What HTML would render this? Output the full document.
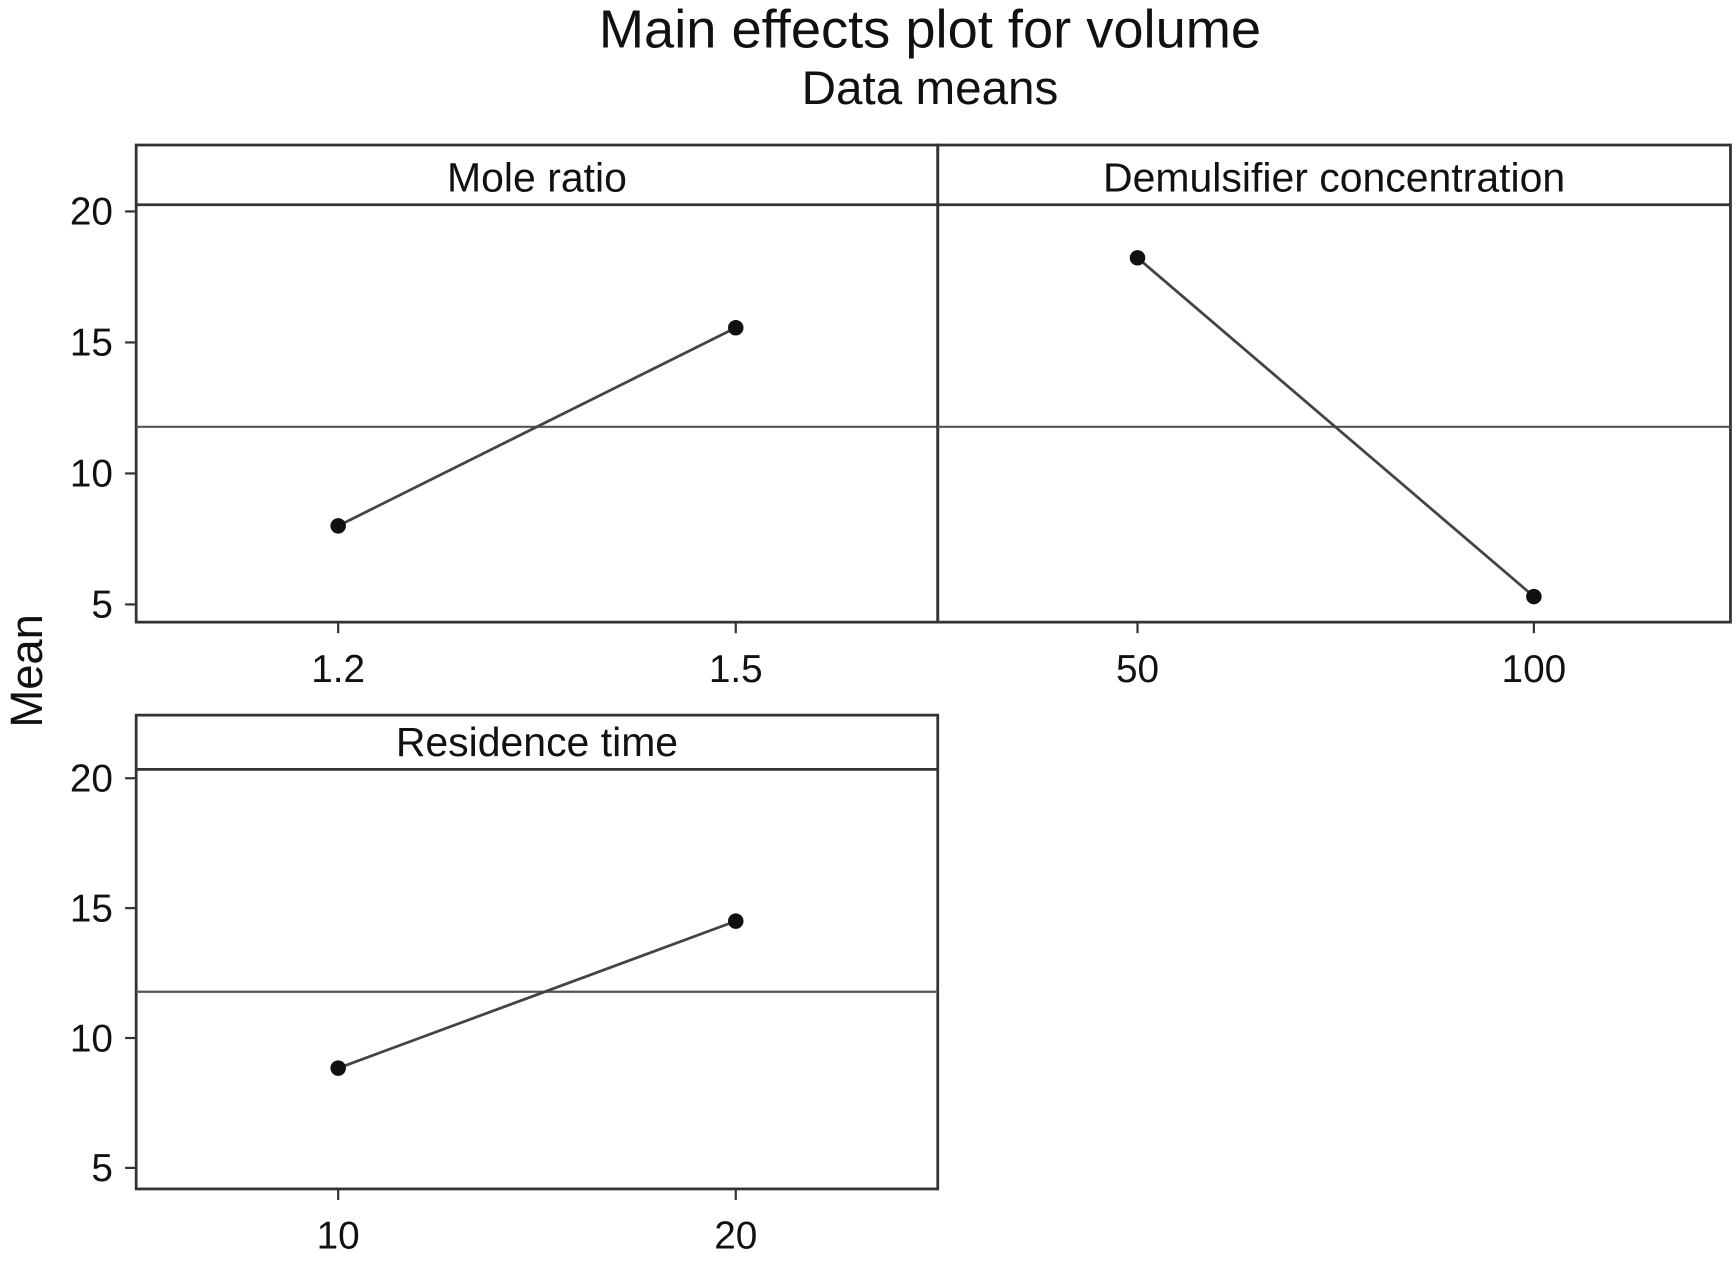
<!DOCTYPE html>
<html><head><meta charset="utf-8"><style>
html,body{margin:0;padding:0;background:#fff;}
svg{display:block;font-family:"Liberation Sans",sans-serif;}
</style></head><body>
<svg id="c" width="1736" height="1262" viewBox="0 0 1568 1140" preserveAspectRatio="none">
<text x="840" y="43" font-size="49" text-anchor="middle" fill="#111">Main effects plot for volume</text>
<text x="840" y="94" font-size="43" text-anchor="middle" fill="#111">Data means</text>
<text transform="translate(38,606) rotate(-90)" font-size="41" text-anchor="middle" fill="#111">Mean</text>
<g id="g"></g>
</svg>
<script>
const factorNames = ["Mole ratio", "Demulsifier concentration", "Residence time"];
const levelLabels = [["1.2","1.5"],["50","100"],["10","20"]];
const meanValues = [[8.0,15.56],[18.23,5.3],[8.84,14.5]];
const yTicks = [5,10,15,20];
const grandMean = 11.78;

const NS="http://www.w3.org/2000/svg";
const g=document.getElementById('g');
function mk(t,a,p){const e=document.createElementNS(NS,t);for(const k in a)e.setAttribute(k,a[k]);(p||g).appendChild(e);return e;}
const panels=[{x0:123,x1:847,top:131,strip:185,bot:562,y20:191,y5:546,axis:true,f:[0.252,0.748]},
              {x0:847,x1:1563,top:131,strip:185,bot:562,y20:191,y5:546,axis:false,f:[0.252,0.752]},
              {x0:123,x1:847,top:646,strip:695,bot:1074,y20:703,y5:1055,axis:true,f:[0.252,0.748]}];
panels.forEach((p,i)=>{
  const yS=v=>p.y5+(v-5)*(p.y20-p.y5)/15;
  const w=p.x1-p.x0;
  const xS=j=>p.x0+w*p.f[j];
  const grp=mk('g',{});
  
  
  const box=mk('rect',{x:p.x0,y:p.top,width:w,height:p.bot-p.top,fill:'none',stroke:'#333','stroke-width':2.5},grp);
  
  
  mk('line',{x1:p.x0,x2:p.x1,y1:p.strip,y2:p.strip,stroke:'#333','stroke-width':2.5},grp);
  const st=mk('text',{x:(p.x0+p.x1)/2,y:p.strip-12,'font-size':37,'text-anchor':'middle',fill:'#111'},grp);
  st.textContent=factorNames[i];
  
  
  const ml=mk('line',{x1:p.x0,x2:p.x1,y1:yS(grandMean),y2:yS(grandMean),stroke:'#555','stroke-width':2},grp);
  
  
  if(p.axis){yTicks.forEach(t=>{
    mk('line',{x1:113,x2:p.x0,y1:yS(t),y2:yS(t),stroke:'#333','stroke-width':2},grp);
    const tl=mk('text',{x:102,y:yS(t)+12,'font-size':35,'text-anchor':'end',fill:'#111'},grp);
    tl.textContent=t;
    
    
  });}
  levelLabels[i].forEach((l,j)=>{
    mk('line',{x1:xS(j),x2:xS(j),y1:p.bot,y2:p.bot+10,stroke:'#333','stroke-width':2},grp);
    const xl=mk('text',{x:xS(j),y:p.bot+54,'font-size':35,'text-anchor':'middle',fill:'#111'},grp);
    xl.textContent=l;
    
    
  });
  const ln=mk('line',{x1:xS(0),y1:yS(meanValues[i][0]),x2:xS(1),y2:yS(meanValues[i][1]),stroke:'#444','stroke-width':2.5},grp);
  
  
  meanValues[i].forEach((v,j)=>{
    const c=mk('circle',{cx:xS(j),cy:yS(v),r:7,fill:'#111'},grp);
    
    
  });
});
</script>
</body></html>
